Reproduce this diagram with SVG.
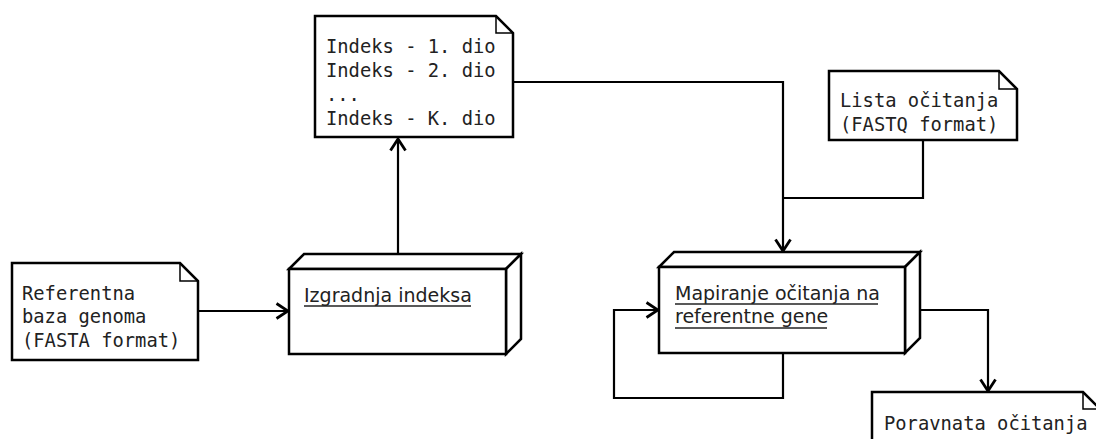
<svg xmlns="http://www.w3.org/2000/svg" width="1096" height="439" viewBox="0 0 1096 439">
  <style>
    .shape { fill: #fff; stroke: #000; stroke-width: 2.5; stroke-linejoin: miter; }
    .fold { fill: none; stroke: #000; stroke-width: 1.5; }
    .edge { fill: none; stroke: #000; stroke-width: 2.2; }
    .mono { font-family: "DejaVu Sans Mono", "Liberation Mono", monospace; font-size: 18.8px; fill: #222; }
    .label { font-family: "DejaVu Sans", "Liberation Sans", sans-serif; font-size: 19px; fill: #222; }
    .uline { stroke: #222; stroke-width: 1.5; }
  </style>
  <defs>
    <marker id="open-arrow" viewBox="0 0 15 18" refX="13" refY="9" markerWidth="15" markerHeight="18" markerUnits="userSpaceOnUse" orient="auto">
      <path d="M1.5,1.5 L13,9 L1.5,16.5" fill="none" stroke="#000" stroke-width="2.8"/>
    </marker>
  </defs>

  <rect width="1096" height="439" fill="#fff"/>

  <!-- connectors -->
  <g id="connectors">
    <path class="edge" d="M198,311 H288" marker-end="url(#open-arrow)"/>
    <path class="edge" d="M398,254 V139" marker-end="url(#open-arrow)"/>
    <path class="edge" d="M513,82 H783 V251" marker-end="url(#open-arrow)"/>
    <path class="edge" d="M923,140 V198 H783"/>
    <path class="edge" d="M783,353 V398 H614 V310 H658" marker-end="url(#open-arrow)"/>
    <path class="edge" d="M920,310 H988 V391" marker-end="url(#open-arrow)"/>
  </g>

  <!-- index parts -->
  <g id="index-parts">
    <path class="shape" d="M315,16 H496 L513,33 V137 H315 Z"/>
    <path class="fold" d="M496,16 V33 H513"/>
    <text class="mono" x="326" y="53">Indeks - 1. dio</text>
    <text class="mono" x="326" y="77">Indeks - 2. dio</text>
    <text class="mono" x="326" y="101">...</text>
    <text class="mono" x="326" y="125">Indeks - K. dio</text>
  </g>

  <!-- reference genome -->
  <g id="reference-db">
    <path class="shape" d="M12,263 H180 L198,281 V360 H12 Z"/>
    <path class="fold" d="M180,263 V281 H198"/>
    <text class="mono" x="22" y="300">Referentna</text>
    <text class="mono" x="22" y="323">baza genoma</text>
    <text class="mono" x="22" y="347">(FASTA format)</text>
  </g>

  <!-- build index -->
  <g id="build-index">
    <path class="shape" d="M289,269 L304,254 H521 L506,269 Z"/>
    <path class="shape" d="M506,269 L521,254 V339 L506,354 Z"/>
    <rect class="shape" x="289" y="269" width="217" height="85"/>
    <text class="label" x="304" y="302">Izgradnja indeksa</text>
    <line class="uline" x1="304" y1="306" x2="471" y2="306"/>
  </g>

  <!-- reads list -->
  <g id="reads">
    <path class="shape" d="M829,71 H999 L1017,89 V140 H829 Z"/>
    <path class="fold" d="M999,71 V89 H1017"/>
    <text class="mono" x="840" y="107">Lista očitanja</text>
    <text class="mono" x="840" y="131">(FASTQ format)</text>
  </g>

  <!-- mapping -->
  <g id="mapping">
    <path class="shape" d="M659,267 L674,252 H920 L905,267 Z"/>
    <path class="shape" d="M905,267 L920,252 V338 L905,353 Z"/>
    <rect class="shape" x="659" y="267" width="246" height="86"/>
    <text class="label" x="675" y="300">Mapiranje očitanja na</text>
    <line class="uline" x1="675" y1="304" x2="878" y2="304"/>
    <text class="label" x="675" y="323">referentne gene</text>
    <line class="uline" x1="675" y1="328" x2="827" y2="328"/>
  </g>

  <!-- aligned reads -->
  <g id="aligned">
    <path class="shape" d="M872,392 H1083 L1100,409 V450 H872 Z"/>
    <path class="fold" d="M1083,392 V409 H1100"/>
    <text class="mono" x="884" y="430">Poravnata očitanja</text>
  </g>
</svg>
